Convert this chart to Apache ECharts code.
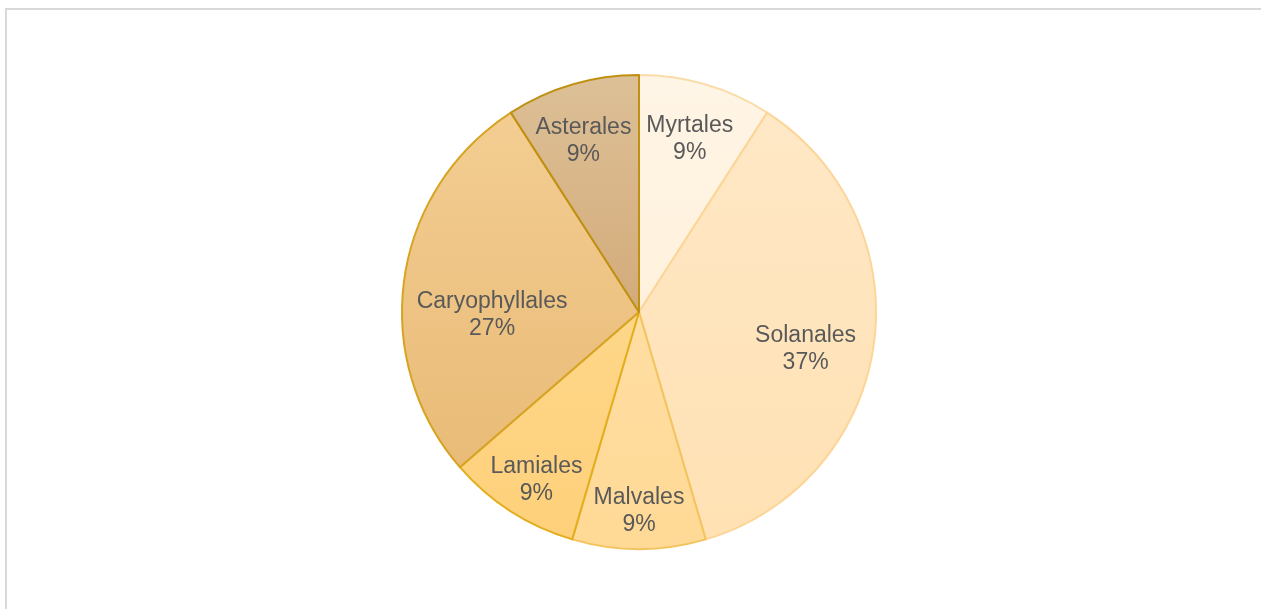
<!DOCTYPE html>
<html>
<head>
<meta charset="utf-8">
<script src="https://cdn.jsdelivr.net/npm/echarts@6/dist/echarts.min.js"></script>
<style>
  html, body { margin: 0; padding: 0; background: #fff; }
  #frame { position: absolute; left: 5px; top: 8px; width: 1300px; height: 700px; border-left: 2px solid #d9d9d9; border-top: 2px solid #d9d9d9; }
  #main { position: absolute; left: 0; top: 0; width: 1261px; height: 609px; }
</style>
</head>
<body>
<div id="frame"></div>
<div id="main"></div>
<script>
// 数据
let names = ['Myrtales', 'Solanales', 'Malvales', 'Lamiales', 'Caryophyllales', 'Asterales']
let values = [1, 4, 1, 1, 3, 1]
let percents = [9, 37, 9, 9, 27, 9]
// 颜色 (渐变上/下, 边框)
let topColors = ['#fff5e6', '#ffe8c6', '#ffdea3', '#fed789', '#f3cd92', '#ddc097']
let bottomColors = ['#fff1dc', '#ffe1b3', '#ffd995', '#fed07a', '#e9bb77', '#d3ab7a']
let borderColors = ['#fadcab', '#fcd597', '#f3c45e', '#e3ad1c', '#d6a322', '#bf9112']
// 标签位置: 离圆心距离(半径比例), 角度微调(度)
let labelDist = [0.76, 0.72, 0.84, 0.83, 0.62, 0.76]
let labelNudge = [0, 4.3, 0, -1.3, -9.4, -1.6]

let cx = 639, cy = 312, R = 237

let total = values.reduce((a, b) => a + b, 0)
let midAngle = []
let acc = 0
values.forEach(v => {
  midAngle.push((acc + v / 2) / total * 360)
  acc += v
})

let chart = echarts.init(document.getElementById('main'))
let data = names.map((n, i) => ({
  name: n,
  value: values[i],
  itemStyle: {
    color: new echarts.graphic.LinearGradient(0, 0, 0, 1, [
      { offset: 0, color: topColors[i] },
      { offset: 1, color: bottomColors[i] }
    ]),
    borderColor: borderColors[i],
    borderWidth: 2
  }
}))

let option = {
  animation: false,
  series: [{
    type: 'pie',
    center: [cx, cy],
    radius: [0, R],
    startAngle: 90,
    clockwise: true,
    avoidLabelOverlap: false,
    data: data,
    label: {
      show: true,
      position: 'inside',
      formatter: (p) => p.name + '\n' + percents[p.dataIndex] + '%',
      fontFamily: 'Liberation Sans, Arial, sans-serif',
      fontSize: 23,
      lineHeight: 27,
      color: '#595959',
      align: 'center'
    },
    labelLine: { show: false },
    emphasis: { disabled: true },
    labelLayout: function (params) {
      let i = params.dataIndex
      let d = labelDist[i] * R
      let a = (midAngle[i] + labelNudge[i]) * Math.PI / 180
      return {
        x: cx + d * Math.sin(a),
        y: cy - d * Math.cos(a),
        align: 'center',
        verticalAlign: 'middle',
        hideOverlap: false
      }
    }
  }]
}
option && chart.setOption(option)
</script>
</body>
</html>
